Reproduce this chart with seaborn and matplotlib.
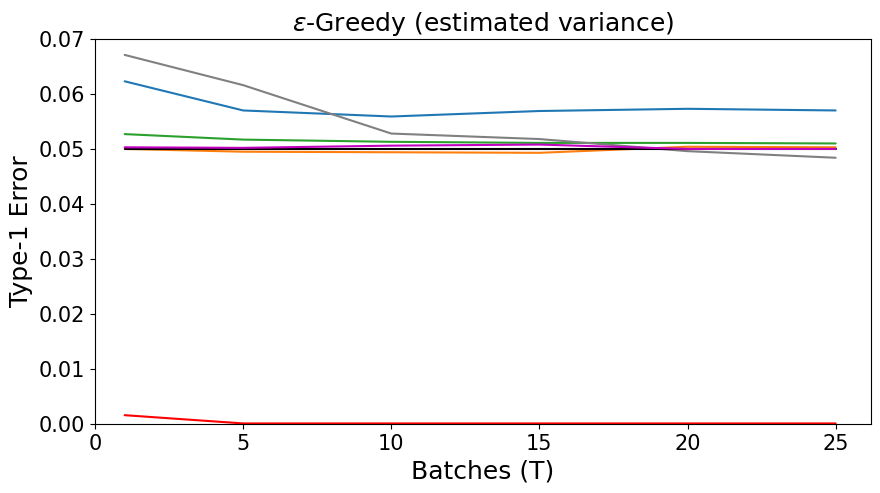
import matplotlib
matplotlib.use("Agg")
import matplotlib.pyplot as plt
import seaborn as sns
import pandas as pd

batches = [1, 5, 10, 15, 20, 25]
series_names = ["blue", "orange", "green", "red", "gray", "black", "magenta"]
blue = [0.0623, 0.0570, 0.0559, 0.0569, 0.0573, 0.0570]
orange = [0.0500, 0.0495, 0.0494, 0.0493, 0.0504, 0.0503]
green = [0.0527, 0.0517, 0.0513, 0.0511, 0.0511, 0.0510]
red = [0.0016, 0.0001, 0.0001, 0.0001, 0.0001, 0.0001]
gray = [0.0671, 0.0616, 0.0528, 0.0518, 0.0496, 0.0484]
black = [0.0500, 0.0500, 0.0500, 0.0500, 0.0500, 0.0500]
magenta = [0.0503, 0.0502, 0.0506, 0.0508, 0.0500, 0.0500]
values = [blue, orange, green, red, gray, black, magenta]
colors = ["#1f77b4", "#ff7f0e", "#2ca02c", "red", "gray", "black", "m"]

rows = []
for name, vals in zip(series_names, values):
    for b, v in zip(batches, vals):
        rows.append({"T": b, "err": v, "series": name})
df = pd.DataFrame(rows)

sns.set_style("ticks")
plt.rcParams['font.family'] = ['DejaVu Sans']
plt.rcParams.update({"text.color": "black", "axes.labelcolor": "black",
                     "xtick.color": "black", "ytick.color": "black",
                     "axes.edgecolor": "black"})
fig = plt.figure(figsize=(8.8, 4.93), dpi=100)
ax = fig.add_axes([0.108, 0.14, 0.882, 0.781])
sns.lineplot(data=df, x="T", y="err", hue="series", palette=dict(zip(series_names, colors)),
             hue_order=series_names, ax=ax, legend=False, linewidth=1.5)
ax.set_xlim(0, 26.2)
ax.set_ylim(0, 0.07)
ax.set_xticks([0, 5, 10, 15, 20, 25])
ax.set_yticks([0, 0.01, 0.02, 0.03, 0.04, 0.05, 0.06, 0.07])
ax.set_yticklabels([f"{v:.2f}" for v in [0, 0.01, 0.02, 0.03, 0.04, 0.05, 0.06, 0.07]])
ax.tick_params(labelsize=15, colors="black")
ax.set_xlabel("Batches (T)", fontsize=18, color="black")
ax.set_ylabel("Type-1 Error", fontsize=18, color="black")
ax.set_title(r"$\epsilon$-Greedy (estimated variance)", fontsize=18, color="black")
for s in ax.spines.values():
    s.set_visible(True)
    s.set_color("black")
fig.savefig("out.png", dpi=100)
